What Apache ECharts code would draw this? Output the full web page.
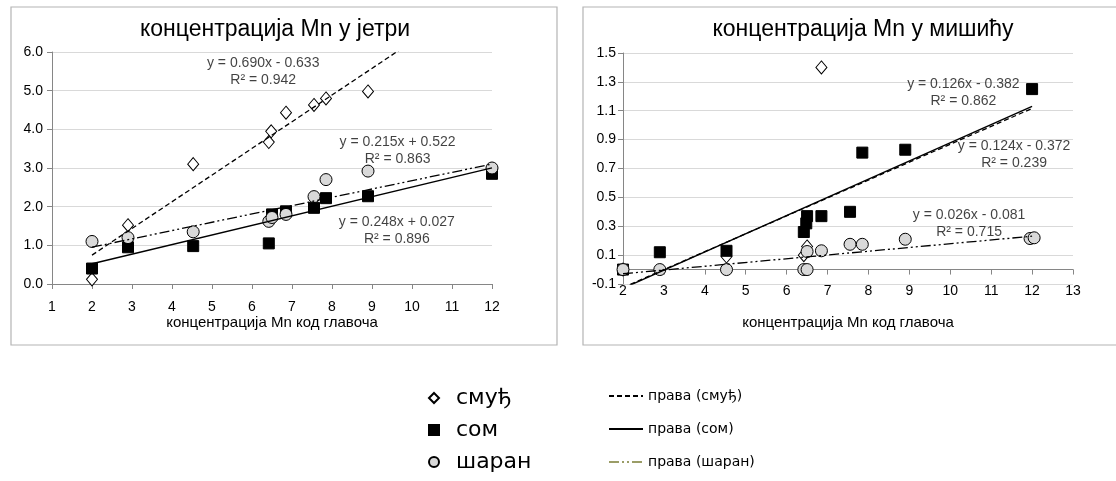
<!DOCTYPE html>
<html>
<head>
<meta charset="utf-8">
<script src="https://cdn.jsdelivr.net/npm/echarts@6/dist/echarts.min.js"></script>
<style>
html,body{margin:0;padding:0;background:#fff;}
#c{width:1116px;height:481px;}
</style>
</head>
<body>
<div id="c"></div>
<script>
// ---- data ----
var seriesNames = ['смуђ', 'сом', 'шаран'];
var trendNames = ['права (смуђ)', 'права (сом)', 'права (шаран)'];
var titles = ['концентрација Mn у јетри', 'концентрација Mn у мишићу'];
var xAxisTitle = 'концентрација Mn код главоча';

// liver (јетра)
var liverSmudj = [[2.0,0.12],[2.9,1.52],[4.53,3.1],[6.42,3.67],[6.48,3.95],[6.85,4.43],[7.55,4.63],[7.85,4.8],[8.9,4.98]];
var liverSom = [[2.0,0.4],[2.9,0.95],[4.53,0.98],[6.42,1.05],[6.5,1.8],[6.85,1.88],[7.55,1.97],[7.85,2.22],[8.9,2.27],[12,2.85]];
var liverSaran = [[2.0,1.1],[2.9,1.2],[4.53,1.35],[6.42,1.62],[6.5,1.72],[6.85,1.8],[7.55,2.26],[7.85,2.7],[8.9,2.92],[12,3.0]];
var liverTrendSmudj = [[2,0.747],[12,7.647]];
var liverTrendSom = [[2,0.523],[12,3.003]];
var liverTrendSaran = [[2,0.952],[12,3.102]];
var liverEq = [
  [6.28, 5.49, 'y = 0.690x - 0.633\nR² = 0.942'],
  [9.64, 3.44, 'y = 0.215x + 0.522\nR² = 0.863'],
  [9.62, 1.38, 'y = 0.248x + 0.027\nR² = 0.896']
];

// muscle (мишић)
var muscleSmudj = [[2.0,0.0],[4.53,0.09],[6.42,0.10],[6.5,0.16],[6.85,1.40]];
var muscleSom = [[2.0,0.0],[2.9,0.12],[4.53,0.13],[6.42,0.26],[6.48,0.32],[6.5,0.37],[6.85,0.37],[7.55,0.40],[7.85,0.81],[8.9,0.83],[12,1.25]];
var muscleSaran = [[2.0,0.0],[2.9,0.0],[4.53,0.0],[6.42,0.0],[6.5,0.0],[6.5,0.125],[6.85,0.13],[7.55,0.175],[7.85,0.175],[8.9,0.21],[11.95,0.215],[12.05,0.22]];
var muscleTrendSmudj = [[2,-0.124],[12,1.116]];
var muscleTrendSom = [[2,-0.130],[12,1.130]];
var muscleTrendSaran = [[2,-0.029],[12,0.231]];
var muscleEq = [
  [10.32, 1.226, 'y = 0.126x - 0.382\nR² = 0.862'],
  [11.56, 0.793, 'y = 0.124x - 0.372\nR² = 0.239'],
  [10.46, 0.319, 'y = 0.026x - 0.081\nR² = 0.715']
];

// ---- styles ----
var FONT = 'Liberation Sans, Arial, sans-serif';
var LEG_FONT = 'DejaVu Sans, Verdana, sans-serif';
var AXIS_COL = '#868686';
var GRID_COL = '#d9d9d9';
var markerStyles = [
  {symbol: 'diamond', symbolSize: [11, 13], itemStyle: {color: '#ffffff', borderColor: '#000', borderWidth: 1, opacity: 1}},
  {symbol: 'rect', symbolSize: 11, itemStyle: {color: '#000000', borderColor: '#000', borderWidth: 1, opacity: 1}},
  {symbol: 'circle', symbolSize: 12, itemStyle: {color: '#d9d9d9', borderColor: '#000', borderWidth: 1, opacity: 1}}
];
var trendStyles = [
  {color: '#000', width: 1.3, type: [5, 3]},
  {color: '#000', width: 1.4, type: 'solid'},
  {color: '#000', width: 1.3, type: [10, 3, 2, 3, 2, 3]}
];

function xAxisCfg(gi, min, max, gap, margin) {
  return {
    type: 'value', gridIndex: gi, min: min, max: max, interval: 1,
    name: xAxisTitle, nameLocation: 'middle', nameGap: gap,
    nameTextStyle: {fontFamily: FONT, fontSize: 15, color: '#000'},
    axisLine: {show: true, onZero: true, lineStyle: {color: AXIS_COL, width: 1}},
    axisTick: {show: true, inside: false, length: 5, lineStyle: {color: AXIS_COL}},
    axisLabel: {fontFamily: FONT, fontSize: 14, color: '#000', margin: margin},
    splitLine: {show: false}
  };
}
function yAxisCfg(gi, min, max, interval, margin) {
  return {
    type: 'value', gridIndex: gi, min: min, max: max, interval: interval,
    axisLine: {show: true, lineStyle: {color: AXIS_COL, width: 1}},
    axisTick: {show: true, inside: false, length: 5, lineStyle: {color: AXIS_COL}},
    axisLabel: {fontFamily: FONT, fontSize: 14, color: '#000', margin: margin,
      formatter: function (v) { return (Math.round(v * 10) / 10).toFixed(1); }},
    splitLine: {show: true, lineStyle: {color: GRID_COL, width: 1}}
  };
}

function scatter(name, data, i, gi) {
  var m = markerStyles[i];
  return {
    name: name, type: 'scatter', xAxisIndex: gi, yAxisIndex: gi, data: data,
    symbol: m.symbol, symbolSize: m.symbolSize, itemStyle: m.itemStyle, z: 3 + i,
    emphasis: {disabled: true}
  };
}
function trend(name, data, i, gi) {
  return {
    name: name, type: 'line', xAxisIndex: gi, yAxisIndex: gi, data: data,
    symbol: 'none', showSymbol: false, clip: true, lineStyle: trendStyles[i],
    itemStyle: {color: '#000'}, z: 10 - i, silent: true, animation: false
  };
}
function eqLabels(data, gi) {
  return {
    name: 'eq' + gi, type: 'scatter', xAxisIndex: gi, yAxisIndex: gi, data: data,
    symbolSize: 1, itemStyle: {color: 'rgba(0,0,0,0)'}, silent: true, z: 20,
    label: {show: true, position: 'inside', align: 'center', verticalAlign: 'middle',
      fontFamily: FONT, fontSize: 14, lineHeight: 17, color: '#111',
      formatter: function (p) { return p.data[2]; }}
  };
}

var hiddenSym = {color: 'rgba(0,0,0,0)', borderColor: 'rgba(0,0,0,0)', borderWidth: 0, opacity: 0};

var chart = echarts.init(document.getElementById('c'), null, {renderer: 'canvas'});
chart.setOption({
  animation: false,
  backgroundColor: '#ffffff',
  graphic: [
    {type: 'rect', shape: {x: 11, y: 7, width: 546, height: 338}, style: {fill: 'none', stroke: '#b4b4b4', lineWidth: 1.2}, silent: true},
    {type: 'rect', shape: {x: 583, y: 7, width: 545, height: 338}, style: {fill: 'none', stroke: '#b4b4b4', lineWidth: 1.2}, silent: true}
  ],
  title: [
    {text: titles[0], left: 270, top: 13, textAlign: 'center', textStyle: {fontFamily: FONT, fontSize: 23, fontWeight: 'normal', color: '#000'}},
    {text: titles[1], left: 858, top: 13, textAlign: 'center', textStyle: {fontFamily: FONT, fontSize: 23, fontWeight: 'normal', color: '#000'}}
  ],
  grid: [
    {left: 52, top: 52, width: 440, height: 232, containLabel: false},
    {left: 623, top: 53, width: 450, height: 231, containLabel: false}
  ],
  xAxis: [xAxisCfg(0, 1, 12, 31, 16), xAxisCfg(1, 2, 13, 31, 0)],
  yAxis: [yAxisCfg(0, 0, 6, 1, 9), yAxisCfg(1, -0.1, 1.5, 0.2, 7)],
  legend: [
    {
      data: seriesNames, orient: 'vertical', left: 423, top: 382, itemWidth: 10, itemHeight: 10,
      itemGap: 10, selectedMode: false,
      formatter: function (n) { return '{n|' + n + '}'; },
      textStyle: {fontFamily: LEG_FONT, fontSize: 22, color: '#000',
        rich: {n: {fontFamily: LEG_FONT, fontSize: 22, color: '#000', padding: [0, 0, 0, 12]}}}
    },
    {
      data: [
        {name: trendNames[0], itemStyle: hiddenSym},
        {name: trendNames[1], itemStyle: hiddenSym},
        {name: trendNames[2], itemStyle: hiddenSym, lineStyle: {color: '#7b7d36', type: [10, 3, 2, 3, 2, 3], width: 1.5}}
      ],
      orient: 'vertical', left: 603, top: 384, itemWidth: 34, itemHeight: 14, itemGap: 19, selectedMode: false,
      textStyle: {fontFamily: LEG_FONT, fontSize: 14, color: '#000'}
    }
  ],
  series: [
    scatter(seriesNames[0], liverSmudj, 0, 0),
    scatter(seriesNames[1], liverSom, 1, 0),
    scatter(seriesNames[2], liverSaran, 2, 0),
    trend(trendNames[0], liverTrendSmudj, 0, 0),
    trend(trendNames[1], liverTrendSom, 1, 0),
    trend(trendNames[2], liverTrendSaran, 2, 0),
    eqLabels(liverEq, 0),
    scatter(seriesNames[0], muscleSmudj, 0, 1),
    scatter(seriesNames[1], muscleSom, 1, 1),
    scatter(seriesNames[2], muscleSaran, 2, 1),
    trend(trendNames[0], muscleTrendSmudj, 0, 1),
    trend(trendNames[1], muscleTrendSom, 1, 1),
    trend(trendNames[2], muscleTrendSaran, 2, 1),
    eqLabels(muscleEq, 1)
  ]
});
</script>
</body>
</html>
